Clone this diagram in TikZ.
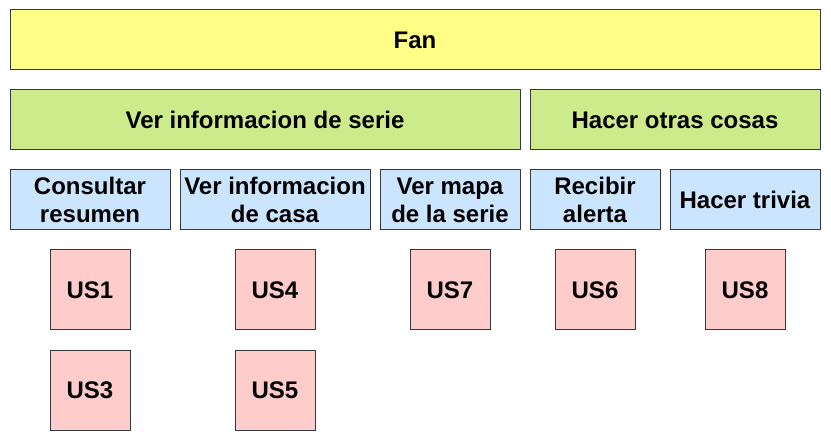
\documentclass[tikz,border=0pt]{standalone}
\usepackage{fontspec}
\setmainfont{Liberation Sans}
\definecolor{cStroke}{HTML}{36393D}
\definecolor{cYellow}{HTML}{FFFF88}
\definecolor{cGreen}{HTML}{CDEB8B}
\definecolor{cBlue}{HTML}{CCE5FF}
\definecolor{cPink}{HTML}{FFCCCC}
\usetikzlibrary{positioning}

\begin{document}
\begin{tikzpicture}[x=0.75pt, y=-0.75pt,
  card/.style={draw=cStroke, line width=0.75pt, inner sep=0pt, align=center,
              font=\fontsize{18pt}{21pt}\selectfont\bfseries},
  role/.style={card, fill=cYellow, minimum height=45pt},
  epic/.style={card, fill=cGreen, minimum height=45pt},
  feature/.style={card, fill=cBlue, minimum height=45pt},
  story/.style={card, fill=cPink, minimum width=60pt, minimum height=60pt}]

  \useasboundingbox (0,0) rectangle (831,441);

  \node[role, minimum width=607.5pt] (fan) at (415,40) {Fan};

  \node[epic, minimum width=382.5pt] (verserie) at (265,120) {Ver informacion de serie};
  \node[epic, minimum width=217.5pt] (otras)    at (675,120) {Hacer otras cosas};

  \node[feature, minimum width=120pt]   (consultar) at (90,200)  {Consultar\\resumen};
  \node[feature, minimum width=142.5pt] (casa)      at (275,200) {Ver informacion\\de casa};
  \node[feature, minimum width=105pt]   (mapa)      at (450,200) {Ver mapa\\de la serie};
  \node[feature, minimum width=97.5pt]  (alerta)    at (595,200) {Recibir\\alerta};
  \node[feature, minimum width=112.5pt] (trivia)    at (745,200) {Hacer trivia};

  \node[story] (us1) at (90,290)  {US1};
  \node[story] (us4) at (275,290) {US4};
  \node[story] (us7) at (450,290) {US7};
  \node[story] (us6) at (595,290) {US6};
  \node[story] (us8) at (745,290) {US8};
  \node[story] (us3) at (90,390)  {US3};
  \node[story] (us5) at (275,390) {US5};
\end{tikzpicture}
\end{document}
